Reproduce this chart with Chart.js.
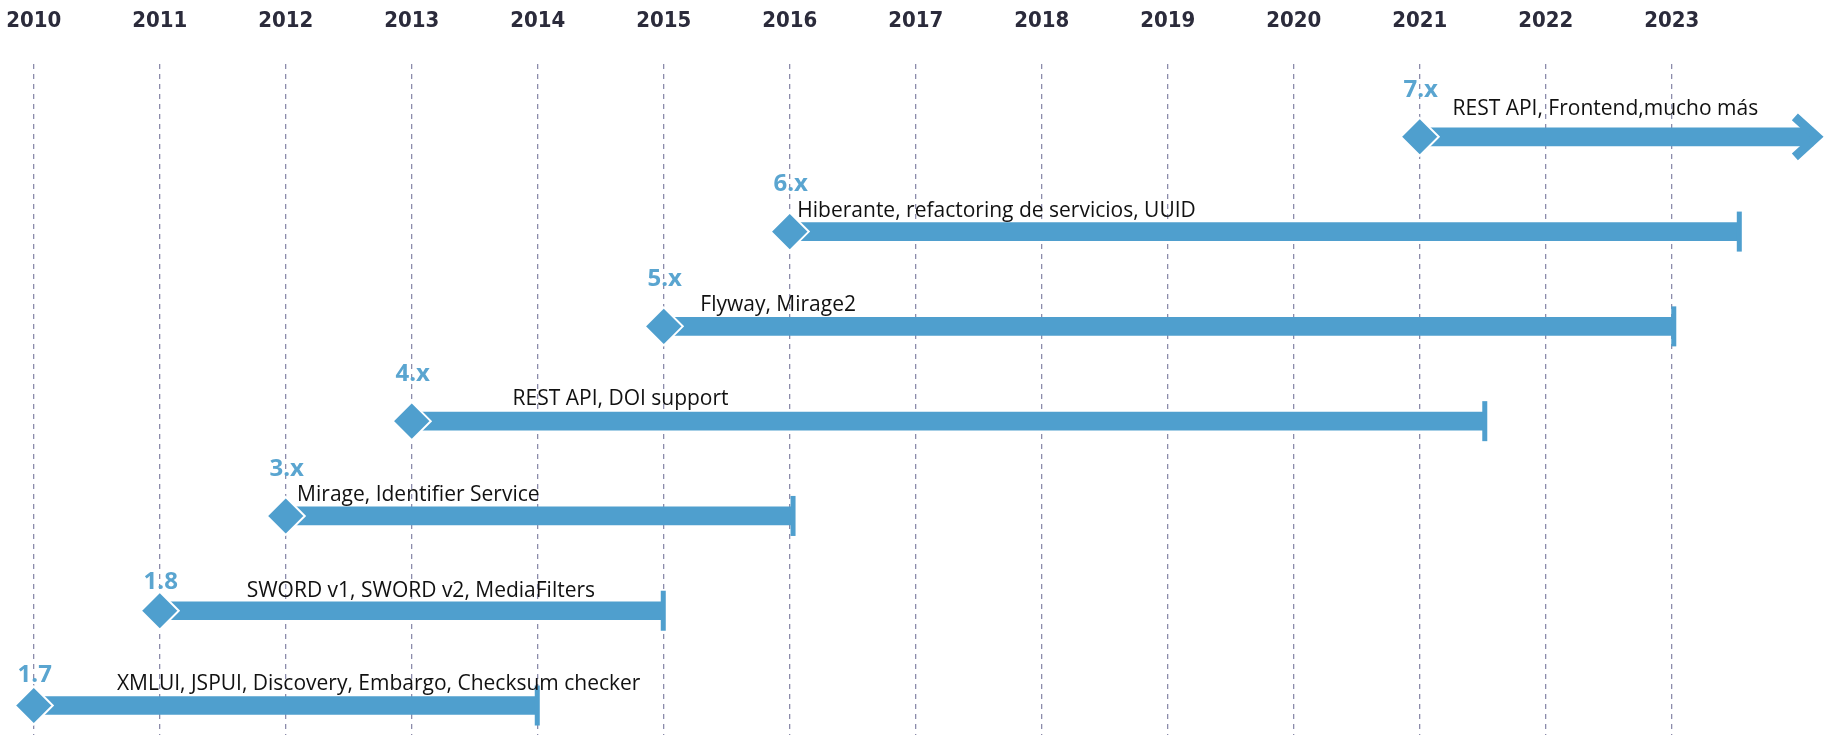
<!DOCTYPE html>
<html>
<head>
<meta charset="utf-8">
<script src="https://cdn.jsdelivr.net/npm/chart.js@4.4.1/dist/chart.umd.min.js"></script>
<style>
  html, body { margin: 0; padding: 0; background: #fff; overflow: hidden; }
  #wrap { width: 1829px; height: 735px; }
</style>
</head>
<body>
<div id="wrap"><canvas id="timeline"></canvas></div>
<script>
// Versiones de DSpace y su periodo
const versions = ['7.x', '6.x', '5.x', '4.x', '3.x', '1.8', '1.7'];
const released = [2021, 2016, 2015, 2013, 2012, 2011, 2010];
const endOfLife = [2024.12, 2023.54, 2023.02, 2021.52, 2016.03, 2015.0, 2014.0];
const features = [
    'REST API, Frontend,mucho más',
    'Hiberante, refactoring de servicios, UUID',
    'Flyway, Mirage2',
    'REST API, DOI support',
    'Mirage, Identifier Service',
    'SWORD v1, SWORD v2, MediaFilters',
    'XMLUI, JSPUI, Discovery, Embargo, Checksum checker'
];
const years = [2010, 2011, 2012, 2013, 2014, 2015, 2016, 2017, 2018, 2019, 2020, 2021, 2022, 2023];

// donde empieza cada texto (en años) y cuanto sube sobre la barra
const noteAt = [2021.26, 2016.06, 2015.29, 2013.80, 2012.09, 2011.69, 2010.66];
const tagLift = [47, 47, 47, 47, 47, 29, 30];
const noteLift = [28, 21, 21, 22, 21, 20, 22];

const BLUE = '#4f9fce';

const timelineMarks = {
    id: 'timelineMarks',
    afterDatasetsDraw(chart) {
        const { ctx, scales: { x, y } } = chart;
        ctx.save();
        versions.forEach((v, i) => {
            const x0 = x.getPixelForValue(released[i]);
            const x1 = x.getPixelForValue(endOfLife[i]);
            const yc = y.getPixelForValue(i);

            ctx.fillStyle = BLUE;
            ctx.strokeStyle = BLUE;
            if (i === 0) {
                // flecha abierta, version vigente
                ctx.lineWidth = 9;
                ctx.lineJoin = 'miter';
                ctx.beginPath();
                ctx.moveTo(x1 - 18, yc - 20);
                ctx.lineTo(x1 + 4, yc);
                ctx.lineTo(x1 - 18, yc + 20);
                ctx.stroke();
            } else {
                ctx.fillRect(x1 - 3, yc - 20, 5, 40);
            }

            ctx.fillStyle = '#5aa5d0';
            ctx.font = 'bold 24px "Open Sans"';
            ctx.textAlign = 'center';
            ctx.textBaseline = 'middle';
            ctx.fillText(v, x0 + 1, yc - tagLift[i]);

            ctx.fillStyle = '#111';
            ctx.font = '21px "Open Sans"';
            ctx.textAlign = 'left';
            ctx.fillText(features[i], x.getPixelForValue(noteAt[i]), yc - noteLift[i]);
        });
        ctx.restore();
    }
};

const ctx = document.getElementById('timeline').getContext('2d');
const timeline = new Chart(ctx, {
    type: 'bar',
    data: {
        datasets: [{
            type: 'scatter',
            data: versions.map((v, i) => ({ x: released[i], y: i })),
            pointStyle: 'rectRot',
            pointRadius: 19,
            pointHoverRadius: 19,
            backgroundColor: BLUE,
            borderColor: '#fff',
            borderWidth: 2,
            order: 0
        }, {
            data: versions.map((v, i) => ({ x: [released[i], endOfLife[i]], y: i })),
            backgroundColor: BLUE,
            borderWidth: 0,
            borderSkipped: false,
            barThickness: 18,
            order: 1
        }]
    },
    options: {
        indexAxis: 'y',
        responsive: true,
        maintainAspectRatio: false,
        animation: false,
        layout: { autoPadding: false, padding: { top: 8, left: 0, right: 0, bottom: 0 } },
        plugins: { legend: { display: false }, tooltip: { enabled: false } },
        scales: {
            x: {
                type: 'linear',
                position: 'top',
                min: 2009.732,
                max: 2024.248,
                afterBuildTicks: axis => { axis.ticks = years.map(v => ({ value: v })); },
                afterFit: axis => {
                    axis.paddingLeft = 0;
                    axis.paddingRight = 0;
                    axis.height = 56;
                },
                ticks: {
                    callback: value => String(value),
                    color: '#2b2b3b',
                    font: { family: 'DejaVu Sans Condensed', weight: 'bold', size: 22 },
                    padding: 30,
                    maxRotation: 0,
                    autoSkip: false
                },
                grid: { color: '#8c8cab', lineWidth: 1.3, drawTicks: false },
                border: { display: false, dash: [5, 5] }
            },
            y: {
                type: 'linear',
                reverse: true,
                offset: false,
                min: -0.768,
                max: 6.311,
                display: false
            }
        }
    },
    plugins: [timelineMarks]
});
</script>
</body>
</html>
